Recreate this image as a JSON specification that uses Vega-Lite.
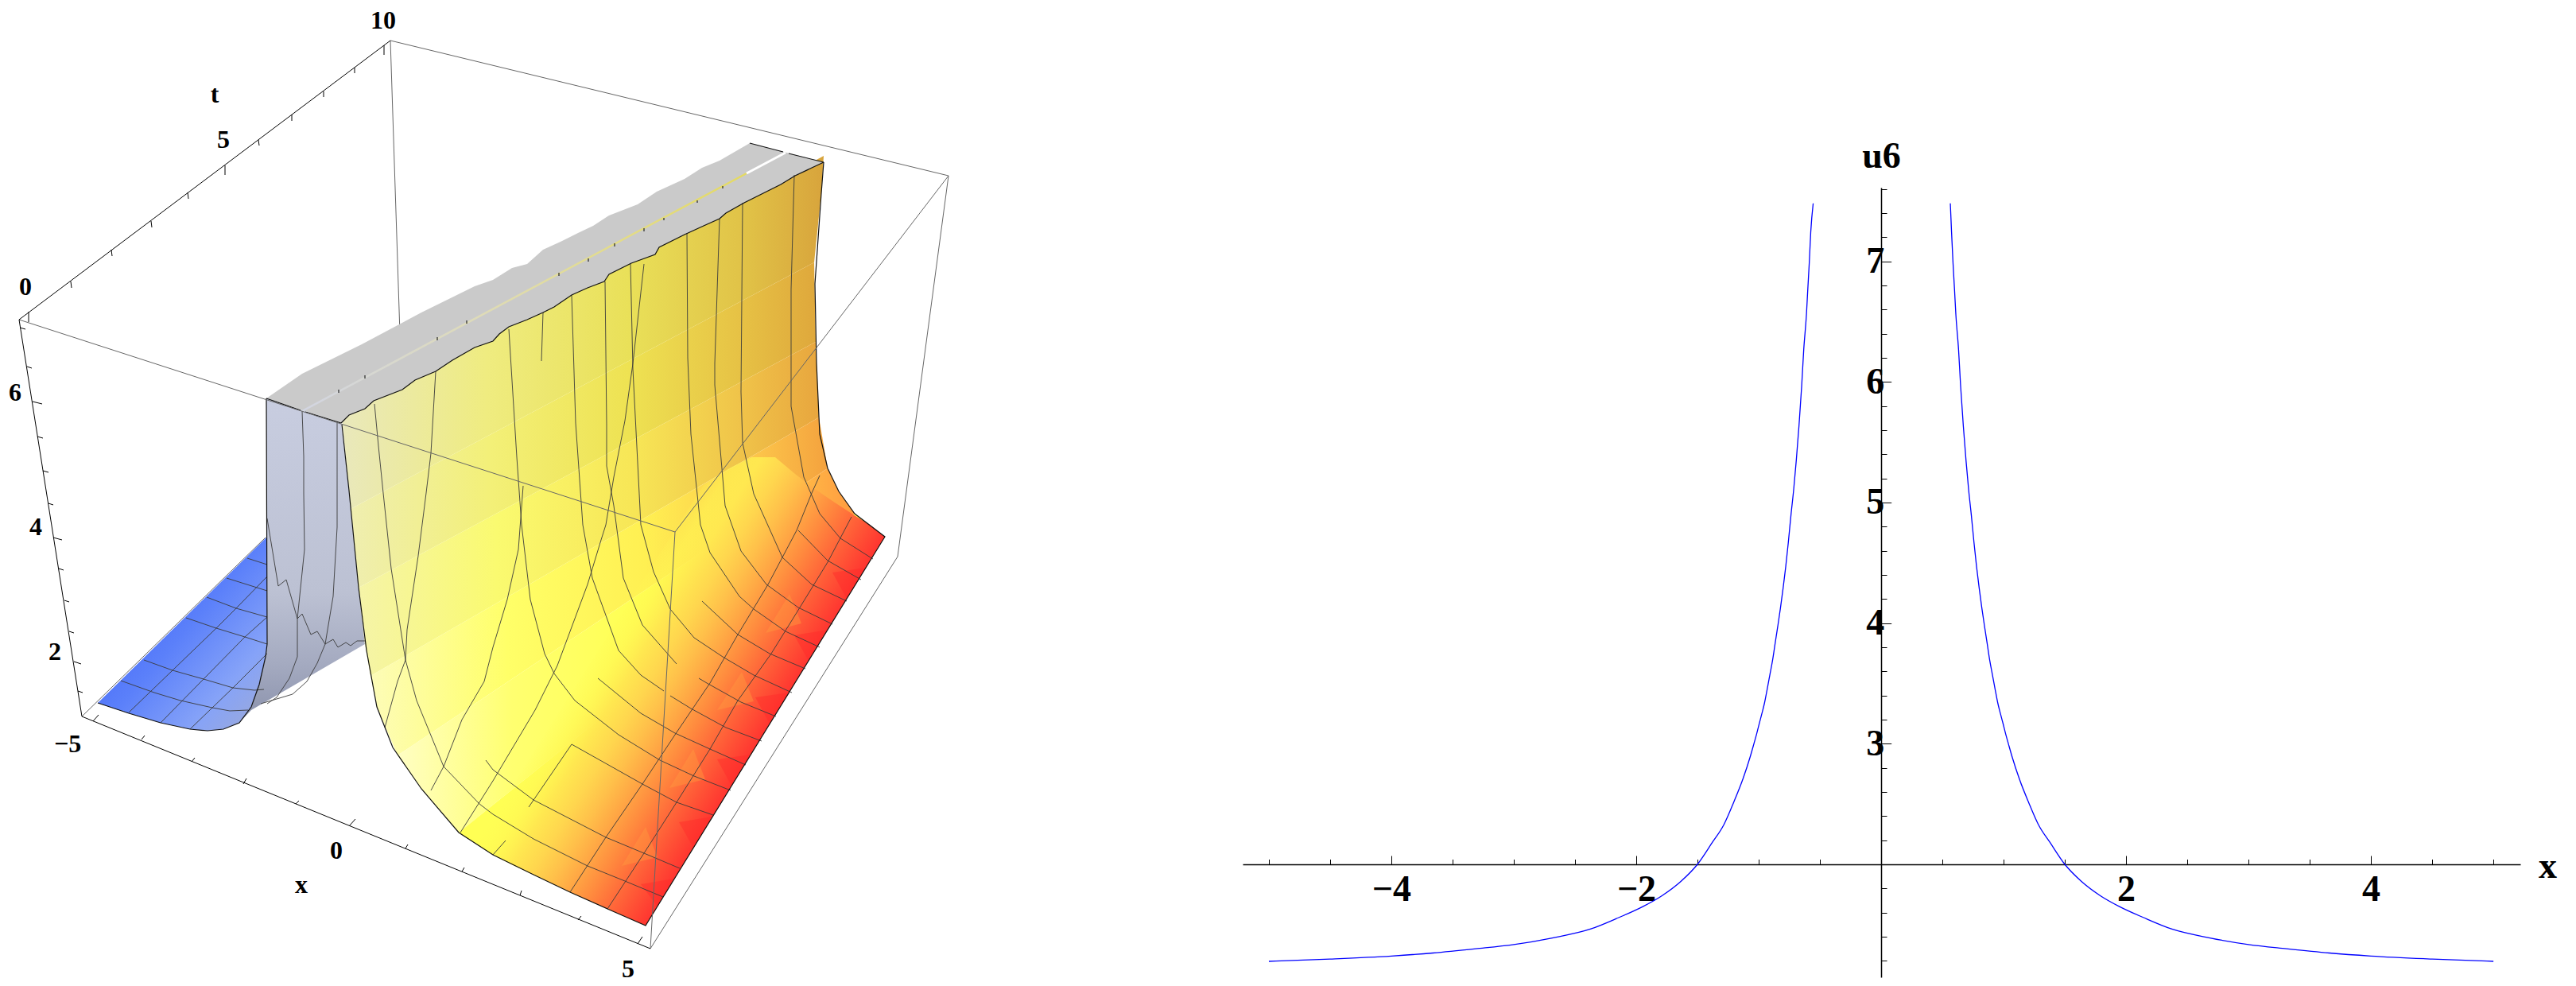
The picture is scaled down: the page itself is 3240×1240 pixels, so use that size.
{"$schema":"https://vega.github.io/schema/vega-lite/v6.json","padding":0,"spacing":0,"bounds":"flush","background":"white","config":{"view":{"stroke":null},"axis":{"grid":false}},
"datasets":{
"poly":[
{"s":"blue","h":123,"v":884},{"s":"blue","h":336,"v":675},{"s":"blue","h":336,"v":810},{"s":"blue","h":334,"v":826},{"s":"blue","h":326,"v":861},{"s":"blue","h":316,"v":889},{"s":"blue","h":301,"v":909},{"s":"blue","h":281,"v":917},{"s":"blue","h":261,"v":919},{"s":"blue","h":239,"v":917},{"s":"blue","h":202,"v":909},{"s":"blue","h":162,"v":897},
{"s":"wall","h":335,"v":501},{"s":"wall","h":429,"v":532},{"s":"wall","h":439,"v":617},{"s":"wall","h":451,"v":739},{"s":"wall","h":459,"v":810},{"s":"wall","h":316,"v":893},{"s":"wall","h":301,"v":909},{"s":"wall","h":316,"v":889},{"s":"wall","h":326,"v":861},{"s":"wall","h":334,"v":826},{"s":"wall","h":336,"v":810},
{"s":"R0","h":430,"v":526},{"s":"R0","h":1036,"v":196},{"s":"R0","h":1033,"v":243},{"s":"R0","h":1024,"v":330},{"s":"R0","h":441,"v":640},{"s":"R0","h":439,"v":617},
{"s":"R1","h":441,"v":640},{"s":"R1","h":1024,"v":330},{"s":"R1","h":1026,"v":430},{"s":"R1","h":451,"v":739},
{"s":"R2","h":451,"v":739},{"s":"R2","h":1026,"v":430},{"s":"R2","h":1030,"v":525},{"s":"R2","h":466,"v":850},{"s":"R2","h":459,"v":810},
{"s":"R3","h":466,"v":850},{"s":"R3","h":1030,"v":525},{"s":"R3","h":1041,"v":589},{"s":"R3","h":500,"v":950},{"s":"R3","h":474,"v":889},
{"s":"R4","h":500,"v":950},{"s":"R4","h":1041,"v":589},{"s":"R4","h":1055,"v":618},{"s":"R4","h":1075,"v":646},{"s":"R4","h":577,"v":1047},{"s":"R4","h":530,"v":992},
{"s":"R5","h":577,"v":1047},{"s":"R5","h":1075,"v":646},{"s":"R5","h":1113,"v":675},{"s":"R5","h":812,"v":1164},{"s":"R5","h":764,"v":1143},{"s":"R5","h":717,"v":1122},{"s":"R5","h":671,"v":1100},{"s":"R5","h":620,"v":1075},
{"s":"floor","h":812,"v":1164},{"s":"floor","h":1113,"v":675},{"s":"floor","h":1094,"v":660},{"s":"floor","h":1073,"v":647},{"s":"floor","h":1050,"v":632},{"s":"floor","h":1025,"v":615},{"s":"floor","h":1000,"v":596},{"s":"floor","h":975,"v":575},{"s":"floor","h":945,"v":575},{"s":"floor","h":915,"v":590},{"s":"floor","h":885,"v":610},{"s":"floor","h":598,"v":1060},{"s":"floor","h":620,"v":1075},{"s":"floor","h":645,"v":1088},{"s":"floor","h":671,"v":1100},{"s":"floor","h":717,"v":1122},{"s":"floor","h":764,"v":1143},
{"s":"ridge","h":335,"v":501},{"s":"ridge","h":380,"v":470},{"s":"ridge","h":455,"v":433},{"s":"ridge","h":530,"v":393},{"s":"ridge","h":597,"v":360},{"s":"ridge","h":620,"v":352},{"s":"ridge","h":644,"v":337},{"s":"ridge","h":663,"v":332},{"s":"ridge","h":683,"v":314},{"s":"ridge","h":705,"v":304},{"s":"ridge","h":727,"v":293},{"s":"ridge","h":746,"v":284},{"s":"ridge","h":766,"v":271},{"s":"ridge","h":802,"v":257},{"s":"ridge","h":826,"v":241},{"s":"ridge","h":861,"v":225},{"s":"ridge","h":883,"v":211},{"s":"ridge","h":905,"v":202},{"s":"ridge","h":924,"v":191},{"s":"ridge","h":943,"v":180},{"s":"ridge","h":1036,"v":204},{"s":"ridge","h":1000,"v":221},{"s":"ridge","h":982,"v":232},{"s":"ridge","h":956,"v":245},{"s":"ridge","h":936,"v":255},{"s":"ridge","h":913,"v":268},{"s":"ridge","h":905,"v":275},{"s":"ridge","h":885,"v":284},{"s":"ridge","h":861,"v":295},{"s":"ridge","h":829,"v":311},{"s":"ridge","h":824,"v":320},{"s":"ridge","h":794,"v":331},{"s":"ridge","h":766,"v":345},{"s":"ridge","h":760,"v":354},{"s":"ridge","h":739,"v":362},{"s":"ridge","h":719,"v":371},{"s":"ridge","h":697,"v":386},{"s":"ridge","h":683,"v":393},{"s":"ridge","h":663,"v":402},{"s":"ridge","h":640,"v":411},{"s":"ridge","h":628,"v":420},{"s":"ridge","h":620,"v":429},{"s":"ridge","h":597,"v":437},{"s":"ridge","h":569,"v":453},{"s":"ridge","h":548,"v":467},{"s":"ridge","h":522,"v":478},{"s":"ridge","h":506,"v":490},{"s":"ridge","h":470,"v":504},{"s":"ridge","h":459,"v":514},{"s":"ridge","h":439,"v":522},{"s":"ridge","h":429,"v":532},
{"s":"stripe","h":380,"v":517},{"s":"stripe","h":939,"v":218},
{"s":"gap","h":939,"v":218},{"s":"gap","h":988,"v":192}
],
"facets":[
{"f":"a1","tone":"deep","h":827,"v":1140},{"f":"a1","tone":"deep","h":848,"v":1105},{"f":"a1","tone":"deep","h":806,"v":1112},
{"f":"a2","tone":"deep","h":872,"v":1066},{"f":"a2","tone":"deep","h":896,"v":1027},{"f":"a2","tone":"deep","h":854,"v":1034},
{"f":"a3","tone":"deep","h":920,"v":988},{"f":"a3","tone":"deep","h":944,"v":949},{"f":"a3","tone":"deep","h":902,"v":955},
{"f":"a4","tone":"deep","h":968,"v":910},{"f":"a4","tone":"deep","h":993,"v":871},{"f":"a4","tone":"deep","h":950,"v":877},
{"f":"a5","tone":"deep","h":1017,"v":831},{"f":"a5","tone":"deep","h":1041,"v":792},{"f":"a5","tone":"deep","h":999,"v":799},
{"f":"a6","tone":"deep","h":1065,"v":753},{"f":"a6","tone":"deep","h":1089,"v":714},{"f":"a6","tone":"deep","h":1047,"v":720},
{"f":"b1","tone":"amber","h":782,"v":1089},{"f":"b1","tone":"amber","h":827,"v":1078},{"f":"b1","tone":"amber","h":812,"v":1040},
{"f":"b2","tone":"amber","h":842,"v":991},{"f":"b2","tone":"amber","h":887,"v":980},{"f":"b2","tone":"amber","h":872,"v":942},
{"f":"b3","tone":"amber","h":902,"v":893},{"f":"b3","tone":"amber","h":948,"v":882},{"f":"b3","tone":"amber","h":933,"v":845},
{"f":"b4","tone":"amber","h":963,"v":796},{"f":"b4","tone":"amber","h":1008,"v":784},{"f":"b4","tone":"amber","h":993,"v":747}
],
"mesh":[
{"m":"D1","h":162,"v":896},{"m":"D1","h":217,"v":843},{"m":"D1","h":272,"v":790},{"m":"D1","h":297,"v":765},{"m":"D1","h":336,"v":725},
{"m":"D2","h":202,"v":909},{"m":"D2","h":256,"v":854},{"m":"D2","h":308,"v":801},{"m":"D2","h":336,"v":776},
{"m":"D3","h":239,"v":917},{"m":"D3","h":293,"v":865},{"m":"D3","h":336,"v":822},
{"m":"C1","h":152,"v":856},{"m":"C1","h":194,"v":871},{"m":"C1","h":227,"v":881},{"m":"C1","h":267,"v":890},{"m":"C1","h":289,"v":894},{"m":"C1","h":312,"v":893},
{"m":"C2","h":181,"v":830},{"m":"C2","h":217,"v":843},{"m":"C2","h":256,"v":854},{"m":"C2","h":293,"v":865},{"m":"C2","h":320,"v":868},{"m":"C2","h":332,"v":867},
{"m":"C3","h":234,"v":777},{"m":"C3","h":272,"v":790},{"m":"C3","h":308,"v":801},{"m":"C3","h":336,"v":810},
{"m":"C4","h":260,"v":751},{"m":"C4","h":297,"v":765},{"m":"C4","h":336,"v":776},
{"m":"C5","h":285,"v":727},{"m":"C5","h":336,"v":743},
{"m":"C6","h":311,"v":702},{"m":"C6","h":336,"v":710},
{"m":"W1","h":336,"v":652},{"m":"W1","h":350,"v":737},{"m":"W1","h":360,"v":729},{"m":"W1","h":374,"v":778},{"m":"W1","h":380,"v":772},{"m":"W1","h":391,"v":798},{"m":"W1","h":399,"v":794},{"m":"W1","h":409,"v":810},{"m":"W1","h":419,"v":804},{"m":"W1","h":425,"v":814},{"m":"W1","h":435,"v":808},{"m":"W1","h":441,"v":812},{"m":"W1","h":449,"v":806},{"m":"W1","h":460,"v":806},
{"m":"W2","h":380,"v":517},{"m":"W2","h":382,"v":574},{"m":"W2","h":382,"v":620},{"m":"W2","h":383,"v":691},{"m":"W2","h":374,"v":778},{"m":"W2","h":374,"v":826},{"m":"W2","h":364,"v":853},{"m":"W2","h":348,"v":877},{"m":"W2","h":336,"v":885},
{"m":"W3","h":424,"v":532},{"m":"W3","h":424,"v":620},{"m":"W3","h":424,"v":663},{"m":"W3","h":419,"v":750},{"m":"W3","h":409,"v":810},{"m":"W3","h":399,"v":834},{"m":"W3","h":386,"v":857},{"m":"W3","h":368,"v":873},{"m":"W3","h":328,"v":885},
{"m":"t1","h":471,"v":508},{"m":"t1","h":476,"v":561},{"m":"t1","h":482,"v":620},{"m":"t1","h":492,"v":715},{"m":"t1","h":510,"v":830},{"m":"t1","h":524,"v":881},{"m":"t1","h":558,"v":964},{"m":"t1","h":603,"v":1011},{"m":"t1","h":620,"v":1024},{"m":"t1","h":671,"v":1055},{"m":"t1","h":739,"v":1089},{"m":"t1","h":786,"v":1108},{"m":"t1","h":834,"v":1128},
{"m":"t2","h":611,"v":956},{"m":"t2","h":620,"v":968},{"m":"t2","h":671,"v":1006},{"m":"t2","h":762,"v":1053},{"m":"t2","h":810,"v":1073},{"m":"t2","h":855,"v":1092},
{"m":"Lm","h":579,"v":1047},{"m":"Lm","h":620,"v":982},{"m":"Lm","h":673,"v":893},{"m":"Lm","h":701,"v":837},{"m":"Lm","h":739,"v":735},{"m":"Lm","h":756,"v":679},{"m":"Lm","h":762,"v":660},{"m":"Lm","h":772,"v":600},{"m":"Lm","h":786,"v":529},{"m":"Lm","h":796,"v":457},{"m":"Lm","h":810,"v":332},
{"m":"t3","h":665,"v":1015},{"m":"t3","h":719,"v":936},{"m":"t3","h":808,"v":986},{"m":"t3","h":851,"v":1009},{"m":"t3","h":897,"v":1025},
{"m":"t4","h":640,"v":414},{"m":"t4","h":650,"v":575},{"m":"t4","h":656,"v":660},{"m":"t4","h":667,"v":754},{"m":"t4","h":685,"v":822},{"m":"t4","h":697,"v":847},{"m":"t4","h":723,"v":881},{"m":"t4","h":778,"v":924},{"m":"t4","h":830,"v":956},{"m":"t4","h":873,"v":976},{"m":"t4","h":919,"v":994},
{"m":"t5","h":752,"v":853},{"m":"t5","h":806,"v":897},{"m":"t5","h":849,"v":922},{"m":"t5","h":893,"v":942},{"m":"t5","h":938,"v":962},
{"m":"t6","h":843,"v":875},{"m":"t6","h":869,"v":891},{"m":"t6","h":913,"v":915},{"m":"t6","h":958,"v":932},
{"m":"t7","h":719,"v":371},{"m":"t7","h":724,"v":532},{"m":"t7","h":733,"v":660},{"m":"t7","h":745,"v":727},{"m":"t7","h":778,"v":818},{"m":"t7","h":806,"v":849},{"m":"t7","h":835,"v":869},
{"m":"t7b","h":879,"v":853},{"m":"t7b","h":889,"v":859},{"m":"t7b","h":932,"v":883},{"m":"t7b","h":976,"v":901},
{"m":"v7","h":761,"v":354},{"m":"v7","h":763,"v":534},{"m":"v7","h":763,"v":586},{"m":"v7","h":772,"v":636},{"m":"v7","h":784,"v":727},{"m":"v7","h":808,"v":786},{"m":"v7","h":851,"v":835},
{"m":"t8","h":793,"v":332},{"m":"t8","h":796,"v":464},{"m":"t8","h":806,"v":660},{"m":"t8","h":822,"v":719},{"m":"t8","h":843,"v":766},{"m":"t8","h":873,"v":802},{"m":"t8","h":909,"v":826},{"m":"t8","h":948,"v":849},{"m":"t8","h":996,"v":871},
{"m":"t9","h":883,"v":756},{"m":"t9","h":928,"v":798},{"m":"t9","h":968,"v":822},{"m":"t9","h":1013,"v":841},
{"m":"t10","h":864,"v":293},{"m":"t10","h":865,"v":450},{"m":"t10","h":869,"v":546},{"m":"t10","h":881,"v":660},{"m":"t10","h":893,"v":695},{"m":"t10","h":930,"v":750},{"m":"t10","h":948,"v":766},{"m":"t10","h":988,"v":794},{"m":"t10","h":1031,"v":814},
{"m":"t11","h":905,"v":275},{"m":"t11","h":899,"v":457},{"m":"t11","h":899,"v":484},{"m":"t11","h":912,"v":636},{"m":"t11","h":932,"v":693},{"m":"t11","h":964,"v":735},{"m":"t11","h":1004,"v":764},{"m":"t11","h":1047,"v":785},
{"m":"t12","h":934,"v":255},{"m":"t12","h":932,"v":493},{"m":"t12","h":934,"v":557},{"m":"t12","h":948,"v":621},{"m":"t12","h":984,"v":701},{"m":"t12","h":1021,"v":735},{"m":"t12","h":1065,"v":756},
{"m":"t13","h":1004,"v":667},{"m":"t13","h":1041,"v":705},{"m":"t13","h":1083,"v":729},
{"m":"t14","h":999,"v":220},{"m":"t14","h":995,"v":364},{"m":"t14","h":995,"v":418},{"m":"t14","h":995,"v":511},{"m":"t14","h":1011,"v":600},{"m":"t14","h":1031,"v":646},{"m":"t14","h":1057,"v":677},{"m":"t14","h":1098,"v":703},
{"m":"v9","h":683,"v":393},{"m":"v9","h":681,"v":454},
{"m":"L1","h":717,"v":1122},{"m":"L1","h":762,"v":1053},{"m":"L1","h":808,"v":986},{"m":"L1","h":849,"v":924},{"m":"L1","h":893,"v":859},{"m":"L1","h":928,"v":798},{"m":"L1","h":966,"v":735},{"m":"L1","h":1002,"v":667},{"m":"L1","h":1021,"v":620},{"m":"L1","h":1031,"v":598},
{"m":"L2","h":764,"v":1143},{"m":"L2","h":810,"v":1073},{"m":"L2","h":851,"v":1009},{"m":"L2","h":893,"v":942},{"m":"L2","h":928,"v":881},{"m":"L2","h":970,"v":822},{"m":"L2","h":1006,"v":764},{"m":"L2","h":1041,"v":707},{"m":"L2","h":1071,"v":650},
{"m":"p2","h":548,"v":467},{"m":"p2","h":542,"v":570},{"m":"p2","h":536,"v":620},{"m":"p2","h":526,"v":699},{"m":"p2","h":512,"v":792},{"m":"p2","h":510,"v":830},{"m":"p2","h":500,"v":857},{"m":"p2","h":484,"v":915},
{"m":"p3","h":658,"v":611},{"m":"p3","h":652,"v":691},{"m":"p3","h":638,"v":754},{"m":"p3","h":620,"v":814},{"m":"p3","h":609,"v":857},{"m":"p3","h":581,"v":905},{"m":"p3","h":558,"v":964},{"m":"p3","h":542,"v":994},
{"m":"p4","h":620,"v":1075},{"m":"p4","h":636,"v":1057}
],
"edge":[
{"e":"ef","h":429,"v":532},{"e":"ef","h":439,"v":522},{"e":"ef","h":459,"v":514},{"e":"ef","h":470,"v":504},{"e":"ef","h":506,"v":490},{"e":"ef","h":522,"v":478},{"e":"ef","h":548,"v":467},{"e":"ef","h":569,"v":453},{"e":"ef","h":597,"v":437},{"e":"ef","h":620,"v":429},{"e":"ef","h":628,"v":420},{"e":"ef","h":640,"v":411},{"e":"ef","h":663,"v":402},{"e":"ef","h":683,"v":393},{"e":"ef","h":697,"v":386},{"e":"ef","h":719,"v":371},{"e":"ef","h":739,"v":362},{"e":"ef","h":760,"v":354},{"e":"ef","h":766,"v":345},{"e":"ef","h":794,"v":331},{"e":"ef","h":824,"v":320},{"e":"ef","h":829,"v":311},{"e":"ef","h":861,"v":295},{"e":"ef","h":885,"v":284},{"e":"ef","h":905,"v":275},{"e":"ef","h":913,"v":268},{"e":"ef","h":936,"v":255},{"e":"ef","h":956,"v":245},{"e":"ef","h":982,"v":232},{"e":"ef","h":1000,"v":221},{"e":"ef","h":1036,"v":204},
{"e":"w1","h":335,"v":501},{"e":"w1","h":378,"v":516},
{"e":"w2","h":384,"v":518},{"e":"w2","h":429,"v":532},
{"e":"r1","h":943,"v":180},{"e":"r1","h":985,"v":191},
{"e":"r2","h":992,"v":193},{"e":"r2","h":1036,"v":204},
{"e":"sil","h":1036,"v":204},{"e":"sil","h":1033,"v":243},{"e":"sil","h":1025,"v":357},{"e":"sil","h":1027,"v":457},{"e":"sil","h":1031,"v":546},{"e":"sil","h":1041,"v":589},{"e":"sil","h":1055,"v":618},{"e":"sil","h":1075,"v":646},{"e":"sil","h":1113,"v":675},{"e":"sil","h":812,"v":1164},{"e":"sil","h":764,"v":1143},{"e":"sil","h":717,"v":1122},{"e":"sil","h":671,"v":1100},{"e":"sil","h":620,"v":1075},{"e":"sil","h":577,"v":1047},{"e":"sil","h":530,"v":992},{"e":"sil","h":494,"v":940},{"e":"sil","h":474,"v":889},{"e":"sil","h":461,"v":818},{"e":"sil","h":451,"v":739},{"e":"sil","h":439,"v":617},{"e":"sil","h":430,"v":534},
{"e":"lw","h":335,"v":501},{"e":"lw","h":336,"v":810},{"e":"lw","h":334,"v":826},{"e":"lw","h":326,"v":861},{"e":"lw","h":316,"v":889},{"e":"lw","h":301,"v":909},{"e":"lw","h":281,"v":917},{"e":"lw","h":261,"v":919},{"e":"lw","h":239,"v":917},{"e":"lw","h":202,"v":909},{"e":"lw","h":162,"v":897},{"e":"lw","h":123,"v":884}
],
"rules":[
{"k":"back","h":491,"v":51,"h2":503,"v2":420},{"k":"back","h":491,"v":51,"h2":1193,"v2":221},{"k":"back","h":1193,"v":221,"h2":1129,"v2":700},{"k":"back","h":1129,"v":700,"h2":818,"v2":1193},{"k":"back","h":103,"v":901,"h2":334,"v2":676},
{"k":"front","h":24,"v":402,"h2":849,"v2":669},{"k":"front","h":849,"v":669,"h2":1193,"v2":221},{"k":"front","h":849,"v":669,"h2":818,"v2":1193},
{"k":"axis","h":24,"v":402,"h2":491,"v2":51},{"k":"axis","h":24,"v":402,"h2":103,"v2":901},{"k":"axis","h":103,"v":901,"h2":818,"v2":1193},
{"k":"axis","h":36,"v":392,"h2":36,"v2":405},{"k":"axis","h":89,"v":354,"h2":90,"v2":362},{"k":"axis","h":140,"v":314,"h2":141,"v2":322},{"k":"axis","h":190,"v":278,"h2":191,"v2":286},{"k":"axis","h":236,"v":242,"h2":237,"v2":250},{"k":"axis","h":283,"v":208,"h2":283,"v2":220},{"k":"axis","h":325,"v":176,"h2":326,"v2":183},{"k":"axis","h":367,"v":144,"h2":367,"v2":152},{"k":"axis","h":407,"v":115,"h2":407,"v2":122},{"k":"axis","h":446,"v":85,"h2":446,"v2":92},{"k":"axis","h":483,"v":57,"h2":483,"v2":69},
{"k":"axis","h":25,"v":412,"h2":32,"v2":414},{"k":"axis","h":34,"v":461,"h2":40,"v2":463},{"k":"axis","h":41,"v":505,"h2":53,"v2":508},{"k":"axis","h":47,"v":549,"h2":54,"v2":551},{"k":"axis","h":54,"v":592,"h2":61,"v2":594},{"k":"axis","h":61,"v":633,"h2":67,"v2":635},{"k":"axis","h":67,"v":676,"h2":78,"v2":679},{"k":"axis","h":74,"v":715,"h2":80,"v2":717},{"k":"axis","h":81,"v":755,"h2":87,"v2":757},{"k":"axis","h":87,"v":794,"h2":93,"v2":796},{"k":"axis","h":93,"v":832,"h2":102,"v2":835},{"k":"axis","h":98,"v":869,"h2":104,"v2":871},
{"k":"axis","h":117,"v":907,"h2":124,"v2":899},{"k":"axis","h":178,"v":930,"h2":182,"v2":925},{"k":"axis","h":241,"v":958,"h2":245,"v2":953},{"k":"axis","h":306,"v":986,"h2":310,"v2":979},{"k":"axis","h":372,"v":1011,"h2":376,"v2":1007},{"k":"axis","h":439,"v":1039,"h2":447,"v2":1030},{"k":"axis","h":510,"v":1067,"h2":513,"v2":1062},{"k":"axis","h":581,"v":1096,"h2":584,"v2":1091},{"k":"axis","h":654,"v":1126,"h2":656,"v2":1120},{"k":"axis","h":727,"v":1157,"h2":731,"v2":1152},{"k":"axis","h":802,"v":1187,"h2":808,"v2":1178},
{"k":"axis","h":426,"v":490,"h2":426,"v2":494},{"k":"axis","h":459,"v":472,"h2":459,"v2":476},{"k":"axis","h":550,"v":424,"h2":550,"v2":428},{"k":"axis","h":587,"v":403,"h2":587,"v2":407},{"k":"axis","h":703,"v":343,"h2":703,"v2":347},{"k":"axis","h":740,"v":325,"h2":740,"v2":329},{"k":"axis","h":773,"v":306,"h2":773,"v2":310},{"k":"axis","h":810,"v":287,"h2":810,"v2":291},{"k":"axis","h":835,"v":274,"h2":835,"v2":277},{"k":"axis","h":877,"v":252,"h2":877,"v2":255},{"k":"axis","h":909,"v":234,"h2":909,"v2":237}
],
"labels":[{"h":482,"v":26,"txt":"10"},{"h":270,"v":119,"txt":"t"},{"h":281,"v":176,"txt":"5"},{"h":32,"v":361,"txt":"0"},{"h":19,"v":494,"txt":"6"},{"h":45,"v":663,"txt":"4"},{"h":69,"v":820,"txt":"2"},{"h":85,"v":936,"txt":"−5"},{"h":423,"v":1070,"txt":"0"},{"h":379,"v":1113,"txt":"x"},{"h":790,"v":1219,"txt":"5"}],
"curve":[
{"b":"R","x":0.565,"u":7.48},{"b":"R","x":0.575,"u":7.24},{"b":"R","x":0.587,"u":6.985},{"b":"R","x":0.6,"u":6.75},{"b":"R","x":0.61,"u":6.56},{"b":"R","x":0.632,"u":6.27},{"b":"R","x":0.649,"u":5.965},{"b":"R","x":0.671,"u":5.636},{"b":"R","x":0.693,"u":5.35},{"b":"R","x":0.714,"u":5.11},{"b":"R","x":0.736,"u":4.9},{"b":"R","x":0.758,"u":4.67},{"b":"R","x":0.779,"u":4.47},{"b":"R","x":0.8,"u":4.295},{"b":"R","x":0.823,"u":4.12},{"b":"R","x":0.844,"u":3.975},{"b":"R","x":0.866,"u":3.83},{"b":"R","x":0.887,"u":3.69},{"b":"R","x":0.909,"u":3.57},{"b":"R","x":0.931,"u":3.45},{"b":"R","x":0.952,"u":3.34},{"b":"R","x":0.974,"u":3.25},{"b":"R","x":0.996,"u":3.165},{"b":"R","x":1.017,"u":3.08},{"b":"R","x":1.039,"u":3.0},{"b":"R","x":1.07,"u":2.89},{"b":"R","x":1.128,"u":2.71},{"b":"R","x":1.206,"u":2.51},{"b":"R","x":1.284,"u":2.33},{"b":"R","x":1.38,"u":2.18},{"b":"R","x":1.5,"u":2.0},{"b":"R","x":1.634,"u":1.86},{"b":"R","x":1.79,"u":1.74},{"b":"R","x":1.946,"u":1.65},{"b":"R","x":2.14,"u":1.56},{"b":"R","x":2.37,"u":1.465},{"b":"R","x":2.685,"u":1.39},{"b":"R","x":3.0,"u":1.335},{"b":"R","x":3.31,"u":1.3},{"b":"R","x":3.66,"u":1.265},{"b":"R","x":4.0,"u":1.24},{"b":"R","x":4.5,"u":1.215},{"b":"R","x":5.0,"u":1.196},
{"b":"L","x":-0.555,"u":7.48},{"b":"L","x":-0.575,"u":7.24},{"b":"L","x":-0.587,"u":6.985},{"b":"L","x":-0.6,"u":6.75},{"b":"L","x":-0.61,"u":6.56},{"b":"L","x":-0.632,"u":6.27},{"b":"L","x":-0.649,"u":5.965},{"b":"L","x":-0.671,"u":5.636},{"b":"L","x":-0.693,"u":5.35},{"b":"L","x":-0.714,"u":5.11},{"b":"L","x":-0.736,"u":4.9},{"b":"L","x":-0.758,"u":4.67},{"b":"L","x":-0.779,"u":4.47},{"b":"L","x":-0.8,"u":4.295},{"b":"L","x":-0.823,"u":4.12},{"b":"L","x":-0.844,"u":3.975},{"b":"L","x":-0.866,"u":3.83},{"b":"L","x":-0.887,"u":3.69},{"b":"L","x":-0.909,"u":3.57},{"b":"L","x":-0.931,"u":3.45},{"b":"L","x":-0.952,"u":3.34},{"b":"L","x":-0.974,"u":3.25},{"b":"L","x":-0.996,"u":3.165},{"b":"L","x":-1.017,"u":3.08},{"b":"L","x":-1.039,"u":3.0},{"b":"L","x":-1.07,"u":2.89},{"b":"L","x":-1.128,"u":2.71},{"b":"L","x":-1.206,"u":2.51},{"b":"L","x":-1.284,"u":2.33},{"b":"L","x":-1.38,"u":2.18},{"b":"L","x":-1.5,"u":2.0},{"b":"L","x":-1.634,"u":1.86},{"b":"L","x":-1.79,"u":1.74},{"b":"L","x":-1.946,"u":1.65},{"b":"L","x":-2.14,"u":1.56},{"b":"L","x":-2.37,"u":1.465},{"b":"L","x":-2.685,"u":1.39},{"b":"L","x":-3.0,"u":1.335},{"b":"L","x":-3.31,"u":1.3},{"b":"L","x":-3.66,"u":1.265},{"b":"L","x":-4.0,"u":1.24},{"b":"L","x":-4.5,"u":1.215},{"b":"L","x":-5.0,"u":1.196}
]},
"hconcat":[
{"width":1540,"height":1240,
"encoding":{"x":{"field":"h","type":"quantitative","scale":{"domain":[0,1540],"nice":false,"zero":false},"axis":null},"y":{"field":"v","type":"quantitative","scale":{"domain":[0,1240],"reverse":true,"nice":false,"zero":false},"axis":null}},
"layer":[
{"data":{"name":"rules"},"transform":[{"filter":"datum.k=='back'"}],"mark":{"type":"rule","stroke":"#666666","strokeWidth":1},"encoding":{"x2":{"field":"h2"},"y2":{"field":"v2"}}},
{"data":{"name":"poly"},"transform":[{"filter":"datum.s=='blue'"},{"window":[{"op":"row_number","as":"n"}]}],"mark":{"type":"line","fill":{"gradient":"linear","x1":0,"y1":0.1,"x2":0.9,"y2":1,"stops":[{"offset":0,"color":"#3557f5"},{"offset":0.5,"color":"#5b80fa"},{"offset":0.8,"color":"#86a3f8"},{"offset":1,"color":"#9aa9dc"}]},"stroke":null},"encoding":{"order":{"field":"n","type":"quantitative"}}},
{"data":{"name":"poly"},"transform":[{"filter":"datum.s=='wall'"},{"window":[{"op":"row_number","as":"n"}]}],"mark":{"type":"line","fill":{"gradient":"linear","x1":0,"y1":0,"x2":0,"y2":1,"stops":[{"offset":0,"color":"#c8cde0"},{"offset":0.6,"color":"#bcc1d3"},{"offset":0.82,"color":"#a4aac0"},{"offset":1,"color":"#8a91ab"}]},"stroke":null},"encoding":{"order":{"field":"n","type":"quantitative"}}},
{"data":{"name":"poly"},"transform":[{"filter":"datum.s=='R0'"},{"window":[{"op":"row_number","as":"n"}]}],"mark":{"type":"line","fill":{"gradient":"linear","x1":0,"y1":0,"x2":1,"y2":0,"stops":[{"offset":0,"color":"#e9e8bc"},{"offset":0.3,"color":"#efec80"},{"offset":0.6,"color":"#e9e058"},{"offset":0.85,"color":"#e0c046"},{"offset":1,"color":"#d8a43c"}]},"stroke":null},"encoding":{"order":{"field":"n","type":"quantitative"}}},
{"data":{"name":"poly"},"transform":[{"filter":"datum.s=='R1'"},{"window":[{"op":"row_number","as":"n"}]}],"mark":{"type":"line","fill":{"gradient":"linear","x1":0,"y1":0,"x2":1,"y2":0,"stops":[{"offset":0,"color":"#efeeb0"},{"offset":0.3,"color":"#f3f078"},{"offset":0.6,"color":"#eee252"},{"offset":0.85,"color":"#e6c044"},{"offset":1,"color":"#dfa83c"}]},"stroke":null},"encoding":{"order":{"field":"n","type":"quantitative"}}},
{"data":{"name":"poly"},"transform":[{"filter":"datum.s=='R2'"},{"window":[{"op":"row_number","as":"n"}]}],"mark":{"type":"line","fill":{"gradient":"linear","x1":0,"y1":0,"x2":1,"y2":0,"stops":[{"offset":0,"color":"#f5f4a8"},{"offset":0.3,"color":"#fafa70"},{"offset":0.6,"color":"#f7e656"},{"offset":0.85,"color":"#efc048"},{"offset":1,"color":"#e8a63e"}]},"stroke":null},"encoding":{"order":{"field":"n","type":"quantitative"}}},
{"data":{"name":"poly"},"transform":[{"filter":"datum.s=='R3'"},{"window":[{"op":"row_number","as":"n"}]}],"mark":{"type":"line","fill":{"gradient":"linear","x1":0,"y1":0,"x2":1,"y2":0,"stops":[{"offset":0,"color":"#fdfcb8"},{"offset":0.3,"color":"#ffff68"},{"offset":0.6,"color":"#fff052"},{"offset":0.85,"color":"#fcc44a"},{"offset":1,"color":"#f4a23e"}]},"stroke":null},"encoding":{"order":{"field":"n","type":"quantitative"}}},
{"data":{"name":"poly"},"transform":[{"filter":"datum.s=='R4'"},{"window":[{"op":"row_number","as":"n"}]}],"mark":{"type":"line","fill":{"gradient":"linear","x1":0,"y1":0,"x2":1,"y2":0,"stops":[{"offset":0,"color":"#fffec4"},{"offset":0.25,"color":"#ffff70"},{"offset":0.55,"color":"#ffff50"},{"offset":0.8,"color":"#ffd04a"},{"offset":1,"color":"#ff9a40"}]},"stroke":null},"encoding":{"order":{"field":"n","type":"quantitative"}}},
{"data":{"name":"poly"},"transform":[{"filter":"datum.s=='R5'"},{"window":[{"op":"row_number","as":"n"}]}],"mark":{"type":"line","fill":"#ffff54","stroke":null},"encoding":{"order":{"field":"n","type":"quantitative"}}},
{"data":{"name":"poly"},"transform":[{"filter":"datum.s=='floor'"},{"window":[{"op":"row_number","as":"n"}]}],"mark":{"type":"line","fill":{"gradient":"linear","x1":0.416,"y1":1,"x2":0.055,"y2":0.746,"stops":[{"offset":0,"color":"#ff3530"},{"offset":0.11,"color":"#ff5035"},{"offset":0.22,"color":"#ff6c3a"},{"offset":0.33,"color":"#ff8a3e"},{"offset":0.44,"color":"#ffa644"},{"offset":0.55,"color":"#ffc04a"},{"offset":0.66,"color":"#ffd64e"},{"offset":0.78,"color":"#ffe850"},{"offset":0.89,"color":"rgba(255,246,82,0.6)"},{"offset":1,"color":"rgba(255,250,84,0)"}]},"stroke":null},"encoding":{"order":{"field":"n","type":"quantitative"}}},
{"data":{"name":"facets"},"transform":[{"window":[{"op":"row_number","as":"n"}]}],"mark":{"type":"line","stroke":null,"fillOpacity":0.45},"encoding":{"detail":{"field":"f"},"order":{"field":"n","type":"quantitative"},"fill":{"field":"tone","type":"nominal","legend":null,"scale":{"domain":["deep","amber"],"range":["#ff2a2a","#ff9a3e"]}}}},
{"data":{"name":"poly"},"transform":[{"filter":"datum.s=='ridge'"},{"window":[{"op":"row_number","as":"n"}]}],"mark":{"type":"line","fill":"#cacaca","stroke":null},"encoding":{"order":{"field":"n","type":"quantitative"}}},
{"data":{"name":"poly"},"transform":[{"filter":"datum.s=='stripe'"},{"window":[{"op":"row_number","as":"n"}]}],"mark":{"type":"line","strokeWidth":2.5,"stroke":{"gradient":"linear","x1":0,"y1":0,"x2":1,"y2":0,"stops":[{"offset":0,"color":"#d2d5e2"},{"offset":0.4,"color":"#dedbb8"},{"offset":0.7,"color":"#e3dc8a"},{"offset":1,"color":"#e4da62"}]}},"encoding":{"order":{"field":"n","type":"quantitative"}}},
{"data":{"name":"poly"},"transform":[{"filter":"datum.s=='gap'"},{"window":[{"op":"row_number","as":"n"}]}],"mark":{"type":"line","strokeWidth":3,"stroke":"#ffffff"},"encoding":{"order":{"field":"n","type":"quantitative"}}},
{"data":{"name":"mesh"},"transform":[{"window":[{"op":"row_number","as":"n"}]}],"mark":{"type":"line","stroke":"#3a3a3a","strokeWidth":0.9},"encoding":{"detail":{"field":"m"},"order":{"field":"n","type":"quantitative"}}},
{"data":{"name":"edge"},"transform":[{"window":[{"op":"row_number","as":"n"}]}],"mark":{"type":"line","stroke":"#111111","strokeWidth":1.2},"encoding":{"detail":{"field":"e"},"order":{"field":"n","type":"quantitative"}}},
{"data":{"name":"rules"},"transform":[{"filter":"datum.k=='front'"}],"mark":{"type":"rule","stroke":"#666666","strokeWidth":1},"encoding":{"x2":{"field":"h2"},"y2":{"field":"v2"}}},
{"data":{"name":"rules"},"transform":[{"filter":"datum.k=='axis'"}],"mark":{"type":"rule","stroke":"#000000","strokeWidth":1},"encoding":{"x2":{"field":"h2"},"y2":{"field":"v2"}}},
{"data":{"name":"labels"},"mark":{"type":"text","font":"Liberation Serif","fontWeight":"bold","fontSize":32,"baseline":"middle","align":"center","color":"#000000"},"encoding":{"text":{"field":"txt"}}}
]},
{"width":1700,"height":1240,"data":{"name":"curve"},
"resolve":{"axis":{"x":"independent","y":"independent"}},
"layer":[
{"mark":{"type":"line","stroke":"#0000ff","strokeWidth":1.3,"interpolate":"monotone"},"encoding":{"detail":{"field":"b"},
"x":{"field":"x","type":"quantitative","scale":{"domain":[-5.214,5.22],"range":[23,1630],"nice":false,"zero":false},"axis":{"orient":"bottom","offset":-153,"values":[-4,-2,2,4],"tickSize":-11,"tickColor":"#000000","tickWidth":1,"domainColor":"#000000","domainWidth":1.5,"labelFont":"Liberation Serif","labelFontWeight":"bold","labelFontSize":46,"labelColor":"#000000","labelPadding":20,"labelExpr":"datum.value<0?'−'+abs(datum.value):datum.value","labelOverlap":false,"labelFlush":false,"title":"x","titleFont":"Liberation Serif","titleFontWeight":"bold","titleFontSize":46,"titleColor":"#000000","titleX":1664,"titleY":16,"titleAlign":"center","titleBaseline":"alphabetic","titleAngle":0}},
"y":{"field":"u","type":"quantitative","scale":{"domain":[1.064,7.61],"range":[1229,236],"nice":false,"zero":false},"axis":{"orient":"left","offset":-826,"values":[3,4,5,6,7],"tickSize":-12.7,"tickColor":"#000000","tickWidth":1,"domainColor":"#000000","domainWidth":1.5,"labelFont":"Liberation Serif","labelFontWeight":"bold","labelFontSize":46,"labelColor":"#000000","labelPadding":9,"labelOverlap":false,"labelFlush":false,"title":"u6","titleFont":"Liberation Serif","titleFontWeight":"bold","titleFontSize":46,"titleColor":"#000000","titleX":0,"titleY":210,"titleAlign":"center","titleBaseline":"alphabetic","titleAngle":0}}}},
{"mark":{"type":"line","strokeOpacity":0},"encoding":{"detail":{"field":"b"},
"x":{"field":"x","type":"quantitative","axis":{"orient":"bottom","offset":-153,"values":[-5,-4.5,-3.5,-3,-2.5,-1.5,-1,-0.5,0.5,1,1.5,2.5,3,3.5,4.5,5],"tickSize":-6.5,"tickColor":"#000000","tickWidth":1,"domain":false,"labels":false,"title":null}},
"y":{"field":"u","type":"quantitative","axis":{"orient":"left","offset":-826,"values":[1.2,1.4,1.6,1.8,2.2,2.4,2.6,2.8,3.2,3.4,3.6,3.8,4.2,4.4,4.6,4.8,5.2,5.4,5.6,5.8,6.2,6.4,6.6,6.8,7.2,7.4,7.6],"tickSize":-7,"tickColor":"#000000","tickWidth":1,"domain":false,"labels":false,"title":null}}}}
]}
]}
